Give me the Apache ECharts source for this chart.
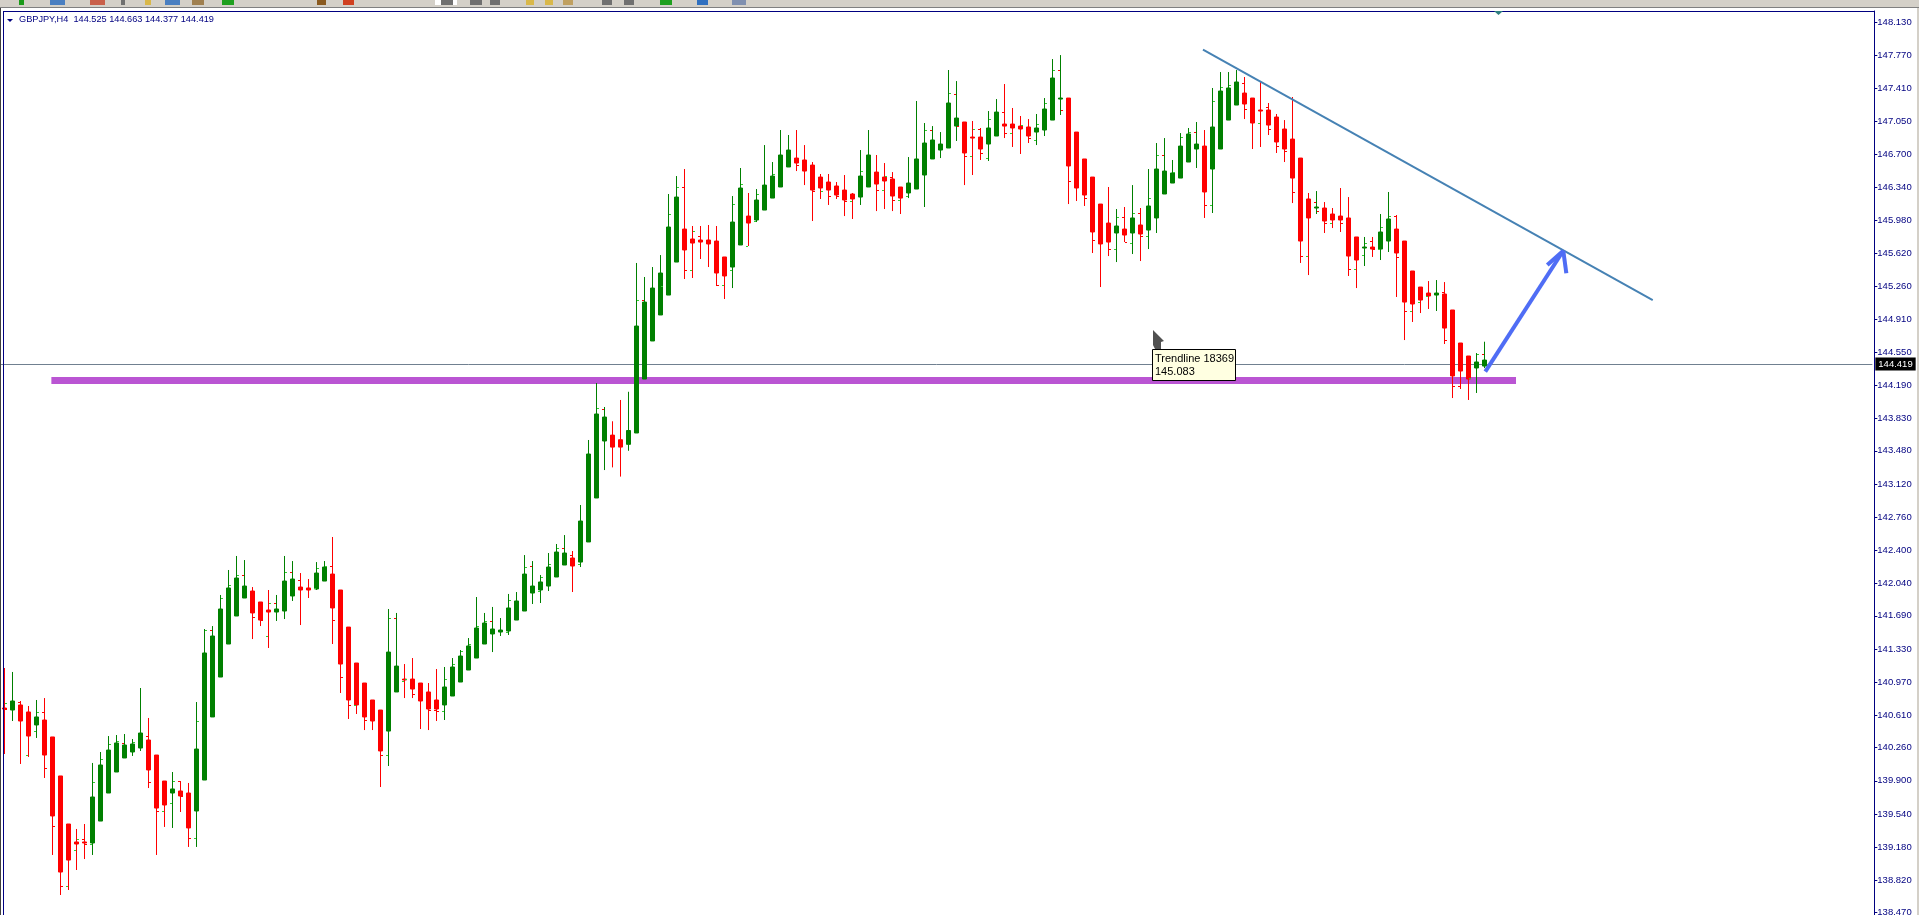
<!DOCTYPE html>
<html><head><meta charset="utf-8">
<style>html,body{margin:0;padding:0;background:#fff;overflow:hidden}#c{width:1919px;height:915px}</style>
<script src="https://cdn.jsdelivr.net/npm/echarts@6/dist/echarts.min.js"></script>
</head><body><div id="c"></div>
<script>
// Heiken-Ashi style bodies: [open, close, low, high]
const candlesA=[
[140.690,140.679,140.191,141.124],[140.668,140.766,140.549,141.081],[140.723,140.549,140.083,140.766],[140.647,140.386,140.159,140.712],[140.506,140.593,140.365,140.777],[140.560,140.180,139.931,140.798],[140.376,139.519,139.096,140.376],[139.953,138.911,138.662,139.953],[139.432,139.041,138.716,139.432],[139.237,139.215,138.933,139.378],
[139.237,139.226,139.052,139.432],[139.226,139.725,139.096,140.094],[139.464,140.072,139.464,140.213],[139.768,140.234,139.768,140.386],[139.996,140.311,139.996,140.397],[140.148,140.289,140.148,140.408],[140.213,140.300,140.170,140.354],[140.256,140.419,140.224,140.907],[140.343,140.018,139.822,140.582],[140.180,139.605,139.096,140.180],
[139.898,139.638,139.400,139.898],[139.768,139.812,139.389,139.996],[139.790,139.736,139.562,139.898],[139.768,139.389,139.183,139.877],[139.573,140.245,139.183,140.755],[139.909,141.287,139.909,141.547],[140.593,141.471,140.593,141.579],[141.026,141.764,141.026,141.916],[141.384,141.992,141.384,142.187],[141.688,142.100,141.688,142.339],
[141.883,142.013,141.883,142.295],[141.959,141.721,141.438,142.002],[141.840,141.644,141.579,141.840],[141.753,141.731,141.341,141.970],[141.731,141.764,141.634,141.916],[141.742,142.067,141.655,142.339],[141.905,142.089,141.851,142.284],[142.002,141.970,141.590,142.154],[141.992,141.970,141.883,142.089],[141.981,142.154,141.970,142.273],
[142.067,142.219,142.067,142.284],[142.143,141.775,141.384,142.545],[141.970,141.167,140.853,141.970],[141.568,140.777,140.571,141.568],[141.178,140.723,140.625,141.178],[140.961,140.593,140.451,140.961],[140.777,140.549,140.451,140.777],[140.668,140.224,139.833,140.668],[140.440,141.297,140.061,141.764],[140.864,141.145,140.864,141.721],
[141.004,140.994,140.798,141.167],[141.004,140.896,140.798,141.232],[140.961,140.766,140.462,140.961],[140.864,140.679,140.451,140.961],[140.777,140.679,140.549,141.113],[140.723,140.918,140.560,141.135],[140.820,141.135,140.820,141.232],[140.972,141.254,140.972,141.319],[141.102,141.363,141.102,141.449],[141.232,141.558,141.232,141.894],
[141.384,141.612,141.384,141.721],[141.493,141.547,141.297,141.786]];
const candlesB=[
[141.514,141.536,141.471,141.666],[141.525,141.775,141.482,141.927],[141.644,141.851,141.644,141.948],[141.742,142.143,141.742,142.349],[141.937,142.013,141.818,142.284],[141.970,142.057,141.829,142.133],[142.013,142.219,141.959,142.371],[142.111,142.382,142.111,142.469],[142.241,142.371,142.241,142.566],[142.317,142.230,141.948,142.393],
[142.273,142.718,142.219,142.892],[142.491,143.445,142.491,143.597],[142.968,143.879,142.968,144.215],[143.586,143.846,143.271,143.955],[143.650,143.520,143.300,143.800],[143.600,143.520,143.200,144.031],[143.550,143.700,143.480,144.120],[143.673,144.833,143.673,145.517],[144.258,145.093,144.258,145.365],[144.671,145.245,144.671,145.473],
[144.953,145.408,144.953,145.603],[145.169,145.907,145.169,146.265],[145.527,146.232,145.527,146.460],[145.885,145.658,145.343,146.536],[145.777,145.733,145.354,145.918],[145.766,145.744,145.560,145.918],[145.766,145.723,145.473,145.929],[145.755,145.408,145.267,145.918],[145.582,145.376,145.126,145.582],[145.473,145.961,145.245,146.243],
[145.712,146.330,145.712,146.547],[146.026,145.950,145.701,146.276],[145.983,146.200,145.961,146.319],[146.091,146.362,146.091,146.796],[146.221,146.460,146.221,146.612],[146.341,146.688,146.341,146.959],[146.558,146.742,146.558,146.905],[146.655,146.601,146.514,146.959],[146.634,146.514,146.362,146.796],[146.579,146.308,145.972,146.612],
[146.449,146.330,146.211,146.482],[146.395,146.308,146.146,146.482],[146.352,146.254,146.211,146.395],[146.308,146.200,146.026,146.471],[146.265,146.211,145.994,146.276],[146.232,146.460,146.146,146.742],[146.341,146.688,146.341,146.959],[146.503,146.373,146.080,146.688],[146.449,146.406,146.102,146.601],[146.428,146.243,146.080,146.503],
[146.341,146.221,146.048,146.341],[146.276,146.384,146.221,146.666],[146.319,146.645,146.319,147.274],[146.471,146.818,146.124,147.035],[146.645,146.851,146.645,147.002],[146.742,146.807,146.655,146.937],[146.764,147.252,146.764,147.610],[147.002,147.089,146.840,147.490],[147.046,146.710,146.362,147.046],[146.883,146.872,146.471,147.057],
[146.883,146.753,146.634,146.981],[146.807,146.981,146.623,147.165]];
const candlesC=[
[146.894,147.154,146.894,147.295],[147.024,147.002,146.872,147.458],[147.024,146.981,146.775,147.198],[147.002,146.970,146.699,147.111],[146.992,146.894,146.818,147.078],[146.937,146.981,146.796,147.133],[146.959,147.187,146.894,147.306],[147.067,147.523,147.067,147.729],[147.295,147.306,147.122,147.772],[147.306,146.569,146.156,147.306],
[146.937,146.330,146.189,146.937],[146.645,146.254,146.135,146.645],[146.449,145.853,145.625,146.449],[146.156,145.723,145.256,146.156],[145.950,145.744,145.592,146.341],[145.842,145.918,145.527,146.102],[145.885,145.820,145.744,146.124],[145.842,146.005,145.614,146.362],[145.929,145.831,145.538,146.113],[145.874,146.135,145.668,146.536],
[146.005,146.536,145.842,146.818],[146.265,146.514,146.265,146.872],[146.384,146.493,146.384,146.634],[146.438,146.785,146.438,146.926],[146.612,146.916,146.612,146.981],[146.753,146.807,146.547,147.046],[146.785,146.287,146.005,146.959],[146.536,146.992,146.059,147.415],[146.753,147.382,146.753,147.588],[147.067,147.415,147.067,147.588],
[147.230,147.480,147.230,147.610],[147.360,147.241,147.078,147.534],[147.306,147.035,146.753,147.306],[147.176,147.165,146.775,147.480],[147.176,147.013,146.905,147.252],[147.100,146.829,146.710,147.133],[146.970,146.753,146.612,147.067],[146.861,146.438,146.167,147.317],[146.655,145.755,145.517,146.655],[146.211,146.005,145.386,146.276],
[146.113,146.124,146.048,146.297],[146.113,145.972,145.842,146.178],[146.048,145.983,145.896,146.113],[146.026,145.983,145.853,146.330],[146.005,145.592,145.376,146.232],[145.799,145.549,145.245,145.799],[145.679,145.690,145.484,145.799],[145.690,145.668,145.582,145.799],[145.668,145.853,145.549,146.048],[145.755,145.994,145.636,146.287],
[145.885,145.625,145.148,146.037],[145.755,145.093,144.681,145.755],[145.430,145.072,144.877,145.430],[145.256,145.115,144.974,145.256],[145.191,145.159,145.018,145.321],[145.169,145.191,144.996,145.332],[145.180,144.811,144.638,145.310],[145.007,144.291,144.052,145.007],[144.649,144.345,144.150,144.649],[144.508,144.258,144.031,144.508],
[144.378,144.443,144.107,144.540],[144.399,144.464,144.377,144.663]];

// Real bar open (left tick) and close (right tick) marks: [bar index, price]
const closeUpTicks=[[0,140.744],[4,140.636],[9,139.269],[11,139.877],[12,140.137],[13,140.289],[14,140.332],[16,140.321],[21,139.898],[24,140.549],[25,141.536],[27,141.883],[28,142.024],[29,142.122],[33,141.829],[35,142.165],[39,142.208],[40,142.230],[48,141.666],[50,141.004],[55,140.994],[56,141.167],[57,141.308],[58,141.384],[59,141.579],[60,141.623],[63,141.851],[65,142.219],[67,142.111],[68,142.252],[69,142.425],[74,143.944],[79,145.115],[82,145.267],[83,146.048],[84,146.341],[86,145.853],[91,146.146],[92,146.373],[94,146.265],[96,146.482],[102,146.287],[107,146.514],[110,146.460],[115,146.959],[118,147.360],[121,146.970],[123,147.078],[127,147.013],[129,147.024],[130,147.252],[131,147.610],[139,146.005],[141,146.059],[143,146.211],[144,146.688],[146,146.503],[147,146.883],[148,146.937],[151,147.263],[152,147.425],[153,147.447],[170,145.733],[172,145.907],[173,146.026],[183,144.269],[184,144.529]];
const openUpTicks=[[3,140.170],[4,140.430],[8,138.759],[9,139.150],[11,139.215],[20,139.573],[21,139.649],[24,139.280],[33,141.471],[39,141.981],[44,140.712],[48,140.180],[50,140.983],[55,140.647],[63,141.514],[67,141.959],[72,142.252],[86,145.430],[90,145.278],[91,145.430],[93,145.701],[94,145.972],[106,146.189],[110,146.308],[112,146.200],[113,146.243],[121,146.677],[123,146.645],[126,146.926],[129,146.840],[139,145.658],[141,145.733],[143,145.809],[151,146.135],[157,147.035],[163,145.582],[166,145.950],[169,145.441],[170,145.603],[172,145.658],[176,144.996],[177,145.093],[178,145.148]];
const openDownTicks=[[2,140.755],[5,140.636],[10,139.269],[15,140.300],[18,140.386],[22,139.898],[26,141.536],[30,142.122],[34,141.829],[36,142.165],[37,142.078],[41,142.230],[49,141.666],[50,141.004],[54,140.658],[61,141.623],[66,142.230],[70,142.425],[71,142.349],[75,143.933],[80,145.115],[85,146.341],[87,145.809],[111,146.449],[116,146.959],[119,147.349],[122,146.970],[125,147.154],[132,147.610],[140,146.005],[142,146.059],[145,146.688],[149,146.937],[155,147.469],[158,147.208],[164,146.178],[171,145.755],[174,146.026],[180,145.202],[182,144.172],[185,144.529]];
const closeDownTicks=[[0,140.679],[5,140.029],[6,139.400],[7,138.759],[10,139.215],[18,139.887],[19,139.573],[22,139.725],[23,139.280],[31,141.677],[32,141.634],[41,141.634],[42,141.026],[43,140.712],[45,140.560],[47,140.180],[51,140.842],[53,140.658],[54,140.647],[85,145.430],[89,145.278],[99,146.569],[101,146.287],[103,146.243],[104,146.243],[105,146.189],[109,146.308],[111,146.200],[119,147.002],[120,146.677],[122,146.699],[125,146.926],[128,146.872],[132,147.176],[133,146.406],[135,146.221],[136,145.766],[138,145.658],[140,145.744],[142,145.809],[150,146.135],[155,147.187],[158,146.970],[159,146.775],[160,146.731],[161,146.276],[162,145.582],[164,146.080],[165,145.950],[167,145.940],[168,145.441],[171,145.658],[174,145.571],[175,144.996],[180,144.681],[181,144.172]];

const tickLabels=[148.130,147.770,147.410,147.050,146.700,146.340,145.980,145.620,145.260,144.910,144.550,144.190,143.830,143.480,143.120,142.760,142.400,142.040,141.690,141.330,140.970,140.610,140.260,139.900,139.540,139.180,138.820,138.470];
const currentPrice=144.419;
const supportLine=[[5.88,144.242],[188.96,144.242]];
const trendLine=[[149.83,147.832],[206.05,145.115]];
const arrowShaft=[[185.12,144.338],[194.87,145.650]];
const arrowBarbLeft=[[192.87,145.495],[194.87,145.650]];
const arrowBarbRight=[[195.25,145.405],[194.87,145.650]];
const headerText='GBPJPY,H4  144.525 144.663 144.377 144.419';
const tipLines=['Trendline 18369','145.083'];

const candles=candlesA.concat(candlesB,candlesC);
const slots=234;
const categories=Array.from({length:slots},(_,i)=>String(i));
const NAVY='#000080';
const F='"Liberation Sans",Arial,sans-serif';

function tickSeries(name,data,side,color){
  return {name,type:'custom',xAxisIndex:1,yAxisIndex:0,z:3,clip:false,silent:true,
    encode:{x:0,y:1},data,
    renderItem(p,api){
      const c=api.coord([api.value(0),api.value(1)]);
      const wx=Math.floor(c[0]);
      return {type:'rect',shape:{x:side<0?wx-2:wx+1,y:Math.floor(c[1]),width:2,height:1},style:{fill:color}};
    }};
}
function lineSeries(name,data,color,width,z){
  return {name,type:'line',xAxisIndex:1,yAxisIndex:0,data,symbol:'none',z,silent:true,clip:false,
    lineStyle:{color,width,cap:'butt'}};
}
function toolbarIcon(x,w,color){return {type:'rect',z:101,shape:{x,y:0,width:w,height:5},style:{fill:color}};}

const chart=echarts.init(document.getElementById('c'),null,{renderer:'canvas'});
chart.setOption({
  animation:false,
  backgroundColor:'#ffffff',
  grid:{left:0.33,top:11,width:1872,height:904,containLabel:false,outerBoundsMode:'none'},
  xAxis:[
    {type:'category',data:categories,boundaryGap:true,show:false},
    {type:'value',min:-0.5,max:slots-0.5,show:false,splitLine:{show:false}}
  ],
  yAxis:{type:'value',position:'right',offset:2,min:138.445,max:148.250,scale:true,
    splitLine:{show:false},
    axisLine:{show:true,onZero:false,lineStyle:{color:NAVY,width:1}},
    axisTick:{show:true,length:3,customValues:tickLabels,lineStyle:{color:NAVY}},
    axisLabel:{show:true,margin:3,customValues:tickLabels,color:NAVY,fontFamily:F,fontSize:9.5,
      formatter:v=>v.toFixed(3),hideOverlap:false}},
  series:[
    lineSeries('Support',supportLine,'#BA55D3',7,1),
    {name:'GBPJPY,H4',type:'candlestick',xAxisIndex:0,yAxisIndex:0,z:2,barWidth:4,silent:true,data:candles,
      itemStyle:{color:'#008000',color0:'#FF0000',borderColor:'#008000',borderColor0:'#FF0000',borderWidth:1},
      markLine:{silent:true,z:1,symbol:'none',animation:false,
        lineStyle:{color:'#708090',width:1,type:'solid'},
        label:{show:true,position:'end',distance:3,formatter:()=>currentPrice.toFixed(3),color:'#fff',backgroundColor:'#000',
          fontFamily:F,fontSize:9.5,padding:[2,3,1,3]},
        data:[{yAxis:currentPrice}]}},
    tickSeries('Open up',openUpTicks,-1,'#32CD32'),
    tickSeries('Close up',closeUpTicks,1,'#32CD32'),
    tickSeries('Open down',openDownTicks,-1,'#FF0000'),
    tickSeries('Close down',closeDownTicks,1,'#FF0000'),
    lineSeries('Trendline',trendLine,'#4682B4',2,4),
    lineSeries('Arrow shaft',arrowShaft,'#4F6DF5',4,5),
    lineSeries('Arrow barb left',arrowBarbLeft,'#4F6DF5',4,5),
    lineSeries('Arrow barb right',arrowBarbRight,'#4F6DF5',4,5)
  ],
  graphic:[
    {type:'rect',z:100,shape:{x:0,y:0,width:1919,height:8},style:{fill:'#D4D0C8'}},
    {type:'rect',z:100,shape:{x:0,y:7,width:1919,height:1},style:{fill:'#808080'}},
    {type:'rect',z:100,shape:{x:3,y:11,width:1871,height:1},style:{fill:NAVY}},
    {type:'rect',z:100,shape:{x:3,y:11,width:1,height:904},style:{fill:NAVY}},
    {type:'rect',z:100,shape:{x:0,y:8,width:1,height:907},style:{fill:'#404040'}},
    {type:'rect',z:100,shape:{x:1917,y:8,width:2,height:907},style:{fill:'#D4D0C8'}},
    toolbarIcon(19,5,'#1a9a1a'),toolbarIcon(50,15,'#4a7fc1'),toolbarIcon(90,15,'#c9604a'),toolbarIcon(121,4,'#707070'),
    toolbarIcon(145,6,'#d9b84a'),toolbarIcon(165,15,'#4a7fc1'),toolbarIcon(192,12,'#a08050'),toolbarIcon(222,12,'#1fa01f'),
    toolbarIcon(317,9,'#8a5a20'),toolbarIcon(343,11,'#d04020'),toolbarIcon(435,22,'#ffffff'),
    toolbarIcon(441,12,'#707070'),toolbarIcon(470,12,'#707070'),toolbarIcon(490,10,'#707070'),toolbarIcon(526,8,'#d9b84a'),
    toolbarIcon(545,8,'#d9b84a'),toolbarIcon(563,10,'#c0a060'),toolbarIcon(602,10,'#707070'),toolbarIcon(624,10,'#707070'),
    toolbarIcon(660,12,'#1fa01f'),toolbarIcon(697,11,'#3070c0'),toolbarIcon(732,14,'#8090b0'),
    {type:'polygon',z:101,shape:{points:[[1494,11],[1503,11],[1498.5,15]]},style:{fill:'#2f7f7f'}},
    {type:'polygon',z:101,shape:{points:[[7,19],[13,19],[10,22]]},style:{fill:NAVY}},
    {type:'text',z:101,style:{x:19,y:15,text:headerText,fill:NAVY,font:'9.2px '+F}},
    {type:'polygon',z:110,shape:{points:[[1153,330],[1164,341],[1161,342],[1161,349],[1155,349],[1153,345]]},style:{fill:'#505050'}},
    {type:'rect',z:111,shape:{x:1152.5,y:349.5,width:83,height:31},style:{fill:'#FFFFE1',stroke:'#000',lineWidth:1}},
    {type:'text',z:112,style:{x:1155,y:353,text:tipLines[0],fill:'#000',font:'11px '+F}},
    {type:'text',z:112,style:{x:1155,y:366,text:tipLines[1],fill:'#000',font:'11px '+F}}
  ]
});
</script></body></html>
